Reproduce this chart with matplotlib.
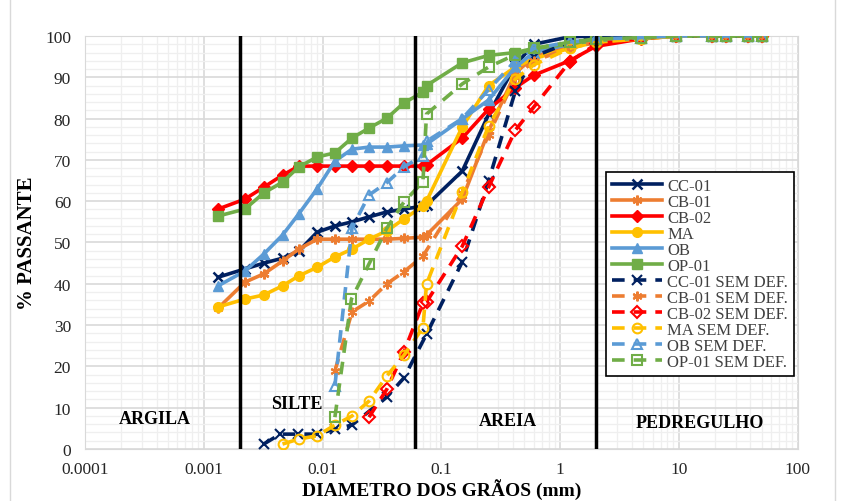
import numpy as np
import matplotlib
matplotlib.use('Agg')
import matplotlib.pyplot as plt
from matplotlib.patches import Rectangle

plt.rcParams['font.family'] = ['Liberation Serif', 'DejaVu Serif']

# diametros (mm) - sedimentacao + peneiramento
d_sed = [0.00132, 0.00222, 0.0032, 0.0046, 0.0063, 0.009, 0.0127, 0.0177, 0.0246, 0.0348, 0.0484, 0.070]
d_sieve = [0.075, 0.15, 0.25, 0.42, 0.6, 1.2, 2.0, 4.8, 9.5, 19, 25, 38, 50]
d_full = d_sed + d_sieve

cc01 = [41.6, 43.6, 45.0, 46.2, 47.9, 52.5, 54.0, 55.0, 56.2, 57.4, 58.1, 58.8,
        59.0, 67.3, 81.0, 93.0, 98.0, 99.8, 100, 100, 100, 100, 100, 100, 100]
cb01 = [34.1, 40.4, 42.4, 45.5, 48.4, 50.8, 50.8, 50.8, 50.8, 50.8, 51.0, 51.3,
        51.8, 60.5, 77.0, 91.0, 95.0, 97.5, 99.0, 99.5, 100, 100, 100, 100, 100]
cb02 = [58.1, 60.5, 63.4, 66.3, 68.5, 68.5, 68.5, 68.5, 68.5, 68.5, 68.5, 68.5,
        68.8, 75.3, 82.3, 87.5, 90.5, 94.0, 97.5, 99.3, 100, 100, 100, 100, 100]
ma = [34.4, 36.3, 37.3, 39.5, 41.9, 44.0, 46.5, 48.4, 50.8, 52.8, 55.7, 58.8,
      60.0, 78.0, 88.0, 92.5, 94.5, 97.0, 98.5, 99.3, 100, 100, 100, 100, 100]
ob = [39.5, 43.1, 47.2, 51.8, 56.9, 63.0, 69.7, 72.6, 73.1, 73.1, 73.4, 73.6,
      73.8, 79.9, 84.5, 92.5, 96.0, 98.0, 99.0, 99.5, 100, 100, 100, 100, 100]
op01 = [56.4, 58.1, 62.0, 64.6, 68.3, 70.7, 71.7, 75.3, 77.7, 80.1, 83.8, 86.4,
        88.0, 93.5, 95.3, 96.0, 97.0, 98.0, 99.0, 99.5, 100, 100, 100, 100, 100]

# sem defloculante
d_cc01_sd = [0.0032, 0.0044, 0.0062, 0.009, 0.0127, 0.0177, 0.0348, 0.0484,
             0.075, 0.15, 0.25, 0.42, 0.6, 1.2, 2.0, 4.8, 9.5, 19, 25, 38, 50]
cc01_sd = [1.2, 3.6, 3.6, 3.6, 4.8, 5.8, 12.6, 17.2,
           27.8, 45.3, 64.9, 86.7, 95.0, 98.5, 99.5, 99.8, 100, 100, 100, 100, 100]

d_cb01_sd = [0.0127, 0.0177, 0.0246, 0.0348, 0.0484, 0.070,
             0.15, 0.25, 0.42, 0.6, 1.2, 2.0, 4.8, 9.5, 19, 25, 38, 50]
cb01_sd = [18.9, 33.2, 35.8, 40.0, 42.9, 46.7,
           62.0, 76.0, 90.0, 94.0, 97.0, 98.5, 99.5, 100, 100, 100, 100, 100]

d_cb02_sd = [0.0246, 0.0348, 0.0484, 0.070, 0.075, 0.15, 0.25, 0.42, 0.6, 1.2,
             2.0, 4.8, 9.5, 19, 25, 38, 50]
cb02_sd = [7.7, 14.5, 23.5, 35.3, 35.6, 49.1, 63.4, 77.2, 82.8, 93.7,
           98.0, 99.5, 100, 100, 100, 100, 100]

d_ma_sd = [0.0046, 0.0063, 0.009, 0.0127, 0.0177, 0.0246, 0.0348, 0.0484, 0.070,
           0.075, 0.15, 0.25, 0.42, 0.6, 1.2, 2.0, 4.8, 9.5, 19, 25, 38, 50]
ma_sd = [1.2, 2.4, 3.2, 5.8, 8.0, 11.6, 17.7, 22.7, 29.4,
         39.9, 62.2, 78.2, 89.6, 93.0, 97.0, 98.5, 99.3, 100, 100, 100, 100, 100]

d_ob_sd = [0.0127, 0.0177, 0.0246, 0.0348, 0.0484, 0.070, 0.075, 0.15, 0.25, 0.42,
           0.6, 1.2, 2.0, 4.8, 9.5, 19, 25, 38, 50]
ob_sd = [15.3, 53.5, 61.5, 64.5, 68.3, 71.0, 74.5, 80.0, 87.0, 94.0,
         97.0, 98.5, 99.3, 99.6, 100, 100, 100, 100, 100]

d_op01_sd = [0.0127, 0.0175, 0.0246, 0.0348, 0.0484, 0.070, 0.075, 0.15, 0.25, 0.42,
             0.6, 1.2, 2.0, 4.8, 9.5, 19, 25, 38, 50]
op01_sd = [7.7, 36.3, 44.8, 53.5, 59.8, 64.7, 81.1, 88.4, 92.5, 95.5,
           97.0, 98.5, 99.3, 99.6, 100, 100, 100, 100, 100]

limites = [0.002, 0.06, 2.0]
faixas = ['ARGILA', 'SILTE', 'AREIA', 'PEDREGULHO']
faixas_x = [0.00039, 0.0061, 0.36, 15]
faixas_y = [7.3, 10.9, 6.8, 6.3]

c_navy = '#002060'
c_orange = '#ED7D31'
c_red = '#FF0000'
c_yellow = '#FFC000'
c_blue = '#5B9BD5'
c_green = '#70AD47'
asterisk = (6, 2, 0)

fig = plt.figure(figsize=(8.45, 5.02), dpi=100)
ax = fig.add_axes([0.1006, 0.1036, 0.8434, 0.8227])
fig.patches.append(Rectangle((0.012, -0.05), 0.976, 1.2, transform=fig.transFigure,
                             fill=False, edgecolor='#d9d9d9', lw=1))

lw = 2.6
ms = 7

solid = [
    ('CC-01', cc01, c_navy, 'x'),
    ('CB-01', cb01, c_orange, asterisk),
    ('CB-02', cb02, c_red, 'D'),
    ('MA', ma, c_yellow, 'o'),
    ('OB', ob, c_blue, '^'),
    ('OP-01', op01, c_green, 's'),
]
for name, y, c, m in solid:
    ax.plot(d_full, y, color=c, lw=lw, marker=m, ms=ms if m != 'D' else 6,
            mew=1.8 if m in ('x', asterisk) else 1, mec=c, mfc=c, label=name, zorder=3)

dashed = [
    ('CC-01 SEM DEF.', d_cc01_sd, cc01_sd, c_navy, 'x'),
    ('CB-01 SEM DEF.', d_cb01_sd, cb01_sd, c_orange, asterisk),
    ('CB-02 SEM DEF.', d_cb02_sd, cb02_sd, c_red, 'D'),
    ('MA SEM DEF.', d_ma_sd, ma_sd, c_yellow, 'o'),
    ('OB SEM DEF.', d_ob_sd, ob_sd, c_blue, '^'),
    ('OP-01 SEM DEF.', d_op01_sd, op01_sd, c_green, 's'),
]
for name, x, y, c, m in dashed:
    ax.plot(x, y, color=c, lw=lw, ls=(0, (3.5, 2.5)), marker=m, ms=ms if m != 'D' else 6,
            mew=1.5, mec=c, mfc='none', label=name, zorder=4)

for xv in limites:
    ax.axvline(xv, color='black', lw=2.5, zorder=5)

for t, xv, yv in zip(faixas, faixas_x, faixas_y):
    ax.text(xv, yv, t, ha='center', va='center', fontsize=13, fontweight='bold', zorder=6)

ax.set_xscale('log')
ax.set_xlim(0.0001, 100)
ax.set_ylim(0, 100)
ax.set_yticks(np.arange(0, 101, 10))
ax.set_yticks(np.arange(0, 101, 2), minor=True)
ax.set_xticks([0.0001, 0.001, 0.01, 0.1, 1, 10, 100])
ax.set_xticklabels(['0.0001', '0.001', '0.01', '0.1', '1', '10', '100'])
ax.grid(True, which='major', color='#d9d9d9', lw=1.2, zorder=0)
ax.grid(True, which='minor', color='#efefef', lw=0.9, zorder=0)
ax.set_axisbelow(True)
ax.tick_params(which='both', length=0, labelsize=12.5, colors='#262626')
ax.tick_params(axis='x', pad=9)
ax.tick_params(axis='y', pad=10)
for s in ax.spines.values():
    s.set_color('#d9d9d9')

ax.set_ylabel('% PASSANTE', fontsize=15, fontweight='bold', labelpad=6)
ax.set_xlabel('DIAMETRO DOS GRÃOS (mm)', fontsize=14, fontweight='bold', va='bottom')
ax.xaxis.set_label_coords(0.5, -0.122)

leg = ax.legend(loc='upper left', bbox_to_anchor=(0.72, 0.69), fontsize=12,
                handlelength=3.0, labelspacing=0.0, borderpad=0.35, handletextpad=0.3,
                frameon=True, fancybox=False, framealpha=1)
leg.get_frame().set_edgecolor('black')
leg.get_frame().set_linewidth(1.2)
for t in leg.get_texts():
    t.set_color('#404040')
leg.set_zorder(10)

fig.savefig('out.png', dpi=100)
